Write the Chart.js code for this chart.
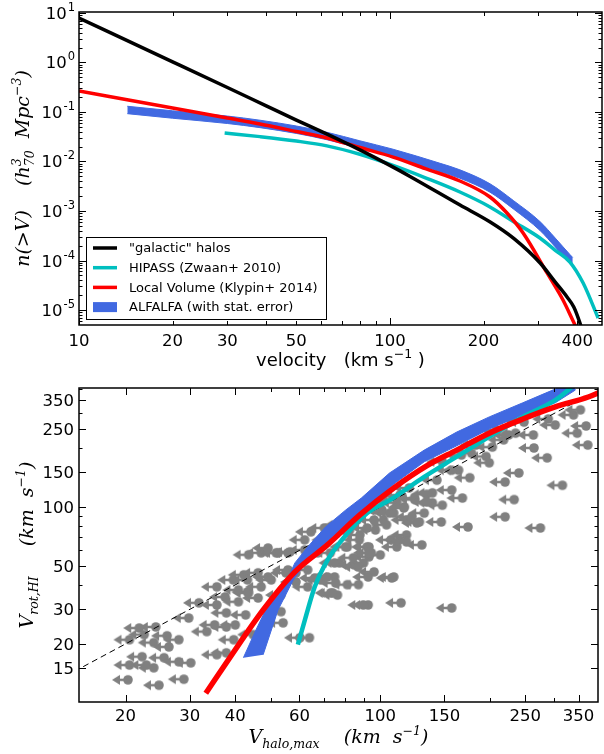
<!DOCTYPE html>
<html>
<head>
<meta charset="utf-8">
<title>Velocity function and Vrot vs Vhalo</title>
<script src="https://cdn.jsdelivr.net/npm/chart.js@4.4.1/dist/chart.umd.min.js"></script>
<style>
  body { margin: 0; background: #fff; }
  canvas { position: absolute; left: 0; }
  #vf { top: 0; }
  #vv { top: 370px; }
</style>
</head>
<body>
<canvas id="vf" width="604" height="370"></canvas>
<canvas id="vv" width="604" height="384"></canvas>
<script>
// ---- top panel: n(>V) ----
const galacticV = [10, 20, 30, 40, 50, 63, 80, 102, 116, 168, 210, 250, 304, 340, 371, 390, 408, 420];
const galacticN = [7.9, 1.03, 0.312, 0.133, 0.0687, 0.0353, 0.0172, 0.0078, 0.0050, 0.00132, 6.0e-4, 2.8e-4, 8.9e-5, 3.66e-5, 1.83e-5, 1.15e-5, 5.5e-6, 3.0e-6];

const localV = [10, 20, 30, 38.2, 50, 62.7, 80, 102.3, 130, 167.8, 209.7, 237.8, 268, 320, 360, 393.5, 405];
const localN = [0.265, 0.120, 0.0755, 0.0573, 0.0403, 0.0299, 0.0192, 0.0123, 0.00718, 0.00404, 0.00192, 9.1e-4, 3.6e-4, 5.6e-5, 1.59e-5, 5.0e-6, 3.5e-6];

const hipassV = [29.4, 38.2, 50, 62.7, 80, 102.3, 130, 167.8, 209.7, 250, 303.6, 340, 379, 418, 467];
const hipassN = [0.0377, 0.0318, 0.0259, 0.0207, 0.0140, 0.00834, 0.00469, 0.00242, 0.00121, 6.07e-4, 2.85e-4, 1.61e-4, 9.3e-5, 3.5e-5, 6.9e-6];

const alfalfaV = [14.3, 20, 30, 38.2, 50, 62.7, 80, 102.3, 144.9, 167.8, 209.7, 250, 303.6, 340, 379, 387];
const alfalfaHi = [0.1306, 0.1057, 0.0828, 0.0682, 0.0521, 0.0389, 0.0262, 0.0177, 0.0092, 0.00679, 0.00355, 0.001607, 6.12e-4, 2.84e-4, 1.32e-4, 1.15e-4];
const alfalfaLo = [0.0925, 0.0748, 0.0586, 0.0483, 0.0369, 0.0275, 0.0186, 0.0125, 0.00622, 0.00459, 0.0024, 0.001086, 4.05e-4, 1.88e-4, 8.71e-5, 7.59e-5];

const legendNames = ['"galactic" halos', 'HIPASS (Zwaan+ 2010)', 'Local Volume (Klypin+ 2014)', 'ALFALFA (with stat. error)'];

// ---- bottom panel: V_rot,HI vs V_halo,max (upper limits) ----
const hiVhalo = [20.3, 24.7, 28.9, 20.5, 22.8, 23.9, 25.5, 28.0, 30.2, 22.2, 23.9, 26.3, 26.0, 24.2, 21.8, 29.8, 33.4, 35.1, 37.8, 40.0,
  35.6, 37.8, 39.5, 42.2, 35.6, 37.5, 40.8, 35.6, 37.8, 42.7, 43.2, 46.2, 55.8, 47.1, 51.8, 62.0, 67.3, 74.9, 68.6, 63.2,
  58.7, 53.4, 46.2, 43.5, 49.2, 76.3, 96.1, 93.1, 87.6, 81.2, 77.3, 84.8, 74.9, 92.0, 96.1, 62.0, 55.8, 53.4, 54.1, 60.2,
  63.9, 92.6, 114, 157, 107.5, 87.1, 100, 93.1, 130, 126, 147, 174, 275, 139, 157, 168, 176, 164, 148, 178,
  195, 199, 203, 218, 225, 235, 248, 263, 264, 287, 289, 339, 367, 347, 371, 316, 240, 220, 233, 220,
  118, 106, 116, 111, 124, 134, 132, 101, 104, 86.4, 82.4, 107, 118, 98, 71.6, 81.2, 73.1, 113, 94.5, 90,
  122, 148, 20.5, 22.5, 43.5,
  52.4, 56.5, 64.5, 70.2, 77.8, 81.2, 87.9, 92.0, 93.1, 84.3, 86.9, 74.9, 71.6, 75.4, 66.1, 63.2, 58.7, 55.1, 50.2, 47.1,
  43.2, 40.8, 74.0, 89.8, 92.6, 108.9, 111, 118, 97, 102, 108.9, 116.4, 124.4, 128, 134, 139, 120, 113.2, 102, 96.1,
  80.2, 72.9, 39.6, 31.8, 28.0, 44.8, 49.2, 143, 157, 167, 183, 208, 228, 302, 354];
const hiVrot = [13.1, 12.3, 13.2, 15.6, 15.6, 15.1, 17.0, 16.2, 16.0, 17.2, 20.3, 19.3, 22.0, 24.4, 24.1, 27.1, 23.1, 25.0, 24.4, 25.0,
  17.6, 18.0, 42.4, 45.0, 39.1, 34.7, 32.8, 31.6, 28.8, 28.1, 36.8, 46.1, 58.3, 58.3, 58.3, 60.3, 58.3, 43.9, 42.4, 39.1,
  41.4, 35.5, 34.3, 36.4, 43.9, 35.5, 46.6, 55.6, 67.9, 62.5, 51.8, 50.6, 78.1, 78.1, 85.8, 67.9, 47.7, 29.2, 25.6, 21.5,
  21.5, 31.6, 32.4, 30.5, 43.4, 40.1, 56.9, 62.5, 64.0, 82.9, 83.8, 79.0, 78.1, 105, 122, 111, 141, 154, 170, 188,
  181, 168, 202, 220, 233, 238, 271, 233, 200, 178, 281, 295, 259, 238, 207, 129, 149, 134, 109, 89,
  85.8, 93, 98.8, 105, 111, 116, 93, 96.5, 81, 85.8, 76.3, 67.9, 71.9, 109, 67.9, 40.1, 36.4, 67.9, 58.3, 51.8,
  89, 102, 21.0, 22.3, 57,
  58.3, 59.0, 74.6, 78.1, 81.0, 73.8, 71.9, 62.5, 58.3, 55.0, 49.4, 51.8, 43.9, 40.9, 43.4, 47.7, 46.1, 46.1, 42.4, 39.1,
  42.4, 37.7, 36.4, 31.6, 43.9, 43.9, 62.5, 66.3, 76.3, 85.8, 93, 100, 109, 83.8, 106, 118, 125, 115, 109, 96.5,
  62.5, 58.3, 21.0, 32.4, 21.0, 22.3, 61.7, 137, 154, 184, 207, 247, 278, 262, 313];

const lvHaloV = [33.2, 38.3, 47.7, 58.3, 71.6, 87.9, 108.9, 134, 162, 199, 246, 302, 372, 413];
const lvRotV = [11.2, 16.6, 29.8, 46.6, 64.0, 91.1, 125, 162, 195, 238, 281, 324, 364, 395];

const hpHaloV = [59.4, 62.1, 66.1, 71.7, 79.7, 92.1, 106.4, 131.6, 161.8, 198.8, 245.9, 302, 328, 343];
const hpRotV = [19.8, 26.5, 39.1, 53.7, 70.3, 93.1, 108.6, 142, 180, 228, 288, 351, 395, 430];

// ALFALFA band outline: upper edge going up, then lower edge coming back down
const afHaloV = [42.1, 45.6, 49.2, 55.5, 58.3, 63.2, 70.7, 80.4, 88.7, 106, 132, 162, 199, 246, 284, 332,
  343, 302, 246, 199, 162, 132, 109, 87.9, 71.6, 63.2, 57.7, 52.4, 47.7];
const afRotV = [17.0, 23.6, 31.6, 42.4, 51.8, 62.5, 79.0, 96.5, 111, 149, 195, 241, 288, 340, 381, 430,
  395, 340, 295, 250, 205, 170, 131, 91.8, 67.1, 53.7, 42.4, 29.8, 17.6];

const oneToOne = [15.3, 362];

// ---- ticks ----
const topXTicks = [10, 20, 30, 40, 50, 60, 70, 80, 90, 100, 200, 300, 400];
const topXLabels = [10, 20, 30, 50, 100, 200, 400];
const topYExp = [-5, -4, -3, -2, -1, 0, 1];
const botXTicks = [20, 30, 40, 50, 60, 70, 80, 90, 100, 150, 200, 250, 300, 350];
const botXLabels = [20, 30, 40, 60, 100, 150, 250, 350];
const botYTicks = [15, 20, 30, 40, 50, 60, 70, 80, 90, 100, 150, 200, 250, 300, 350, 400];
const botYLabels = [15, 20, 30, 50, 100, 150, 250, 350];

const topYTicks = [];
for (let e = -6; e <= 1; e++) for (let m = 1; m <= 9; m++) topYTicks.push(m * Math.pow(10, e));

const BLUE = '#4169e1', CYAN = '#00bfbf', RED = '#ff0000', GREY = '#808080';
const SANS = '"DejaVu Sans", sans-serif';
const MATH = 'italic 19px "DejaVu Serif", serif';
const MATH_S = 'italic 12.5px "DejaVu Serif", serif';
const TICK_FONT = '16.5px ' + SANS;

const pts = (xs, ys) => xs.map((v, i) => ({ x: v, y: ys[i] }));

function drawRich(ctx, parts, x, y) {
  let total = 0;
  const w = parts.map(p => {
    ctx.font = p.font;
    const m = ctx.measureText(p.t).width;
    if (!p.keep) total += m;
    return m;
  });
  let cx = x - total / 2;
  ctx.textAlign = 'left';
  ctx.textBaseline = 'alphabetic';
  parts.forEach((p, i) => {
    ctx.font = p.font;
    ctx.fillText(p.t, cx, y + (p.dy || 0));
    if (!p.keep) cx += w[i];
  });
}

const panels = {
  vf: {
    xTicks: topXTicks, xMajor: [10, 100], xLabels: topXLabels, xLabelDy: 21,
    yTicks: topYTicks, yPow: true,
    xTitle: [
      { t: 'velocity   (km s', font: '18px ' + SANS },
      { t: '\u22121', font: '12.5px ' + SANS, dy: -8 },
      { t: ' )', font: '18px ' + SANS }
    ],
    xTitleY: 366,
    yTitle: [
      { t: 'n(>V)', font: MATH },
      { t: '    (h', font: MATH },
      { t: '3', font: MATH_S, dy: -8, keep: true },
      { t: '70', font: MATH_S, dy: 5 },
      { t: '  Mpc', font: MATH },
      { t: '\u22123', font: MATH_S, dy: -8 },
      { t: ')', font: MATH }
    ],
    yTitleX: 29,
    legend: [[0, 3.5], [2, 3.5], [1, 3.5], [3, 10]]
  },
  vv: {
    xTicks: botXTicks, xMajor: botXLabels, xLabels: botXLabels, xLabelDy: 19,
    yTicks: botYTicks, yMajor: botYLabels, yLabels: botYLabels,
    xTitle: [
      { t: 'V', font: MATH },
      { t: 'halo,max', font: MATH_S, dy: 5 },
      { t: '    (km  s', font: MATH },
      { t: '\u22121', font: MATH_S, dy: -8 },
      { t: ')', font: MATH }
    ],
    xTitleY: 373,
    yTitle: [
      { t: 'V', font: MATH },
      { t: 'rot,HI', font: MATH_S, dy: 5 },
      { t: '     (km  s', font: MATH },
      { t: '\u22121', font: MATH_S, dy: -8 },
      { t: ')', font: MATH }
    ],
    yTitleX: 33
  }
};

const framePlugin = {
  id: 'frame',
  afterDraw(chart) {
    const cfg = panels[chart.canvas.id];
    const { ctx, chartArea: a } = chart;
    const xs = chart.scales.x, ys = chart.scales.y;
    ctx.save();
    ctx.strokeStyle = '#000';
    ctx.fillStyle = '#000';

    // inward ticks on all four sides
    ctx.lineWidth = 1;
    ctx.beginPath();
    cfg.xTicks.forEach(v => {
      const px = Math.round(xs.getPixelForValue(v)) + 0.5;
      if (px < a.left || px > a.right) return;
      const len = cfg.xMajor.includes(v) ? 7 : 4;
      ctx.moveTo(px, a.bottom); ctx.lineTo(px, a.bottom - len);
      ctx.moveTo(px, a.top); ctx.lineTo(px, a.top + len);
    });
    cfg.yTicks.forEach(v => {
      const py = Math.round(ys.getPixelForValue(v)) + 0.5;
      if (py < a.top || py > a.bottom) return;
      const lg = Math.log10(v);
      const major = cfg.yPow ? Math.abs(lg - Math.round(lg)) < 1e-9 : cfg.yMajor.includes(v);
      const len = major ? 7 : 3.5;
      ctx.moveTo(a.left, py); ctx.lineTo(a.left + len, py);
      ctx.moveTo(a.right, py); ctx.lineTo(a.right - len, py);
    });
    ctx.stroke();
    ctx.lineWidth = 1.5;
    ctx.strokeRect(a.left, a.top, a.width, a.height);

    // tick labels
    ctx.font = TICK_FONT;
    ctx.textAlign = 'center';
    ctx.textBaseline = 'alphabetic';
    cfg.xLabels.forEach(v => ctx.fillText(String(v), xs.getPixelForValue(v), a.bottom + cfg.xLabelDy));
    if (cfg.yPow) {
      topYExp.forEach(e => {
        const py = ys.getPixelForValue(Math.pow(10, e));
        const exp = e < 0 ? '-' + (-e) : String(e);
        ctx.font = '11.5px ' + SANS;
        const ew = ctx.measureText(exp).width;
        ctx.font = TICK_FONT;
        const bw = ctx.measureText('10').width;
        const right = a.left - 4;
        ctx.textAlign = 'left';
        ctx.fillText('10', right - ew - bw - 1, py + 6);
        ctx.font = '11.5px ' + SANS;
        ctx.fillText(exp, right - ew, py - 2);
      });
    } else {
      ctx.textAlign = 'right';
      cfg.yLabels.forEach(v => ctx.fillText(String(v), a.left - 5, ys.getPixelForValue(v) + 6));
    }

    // axis titles
    ctx.fillStyle = '#000';
    drawRich(ctx, cfg.xTitle, a.left + a.width / 2, cfg.xTitleY);
    ctx.save();
    ctx.translate(cfg.yTitleX, a.top + a.height / 2);
    ctx.rotate(-Math.PI / 2);
    drawRich(ctx, cfg.yTitle, 0, 0);
    ctx.restore();

    // legend box
    if (cfg.legend) {
      const x0 = a.left + 7, y0 = a.bottom - 88, w = 240, h = 82;
      ctx.fillStyle = '#fff';
      ctx.fillRect(x0, y0, w, h);
      ctx.strokeStyle = '#000';
      ctx.lineWidth = 1;
      ctx.strokeRect(x0 + 0.5, y0 + 0.5, w, h);
      ctx.font = '13px ' + SANS;
      ctx.textAlign = 'left';
      ctx.textBaseline = 'middle';
      cfg.legend.forEach(([di, lw], i) => {
        const ds = chart.data.datasets[di];
        const yy = y0 + 11 + i * 19.7;
        ctx.fillStyle = ds.borderColor;
        ctx.fillRect(x0 + 7, yy - lw / 2, 24, lw);
        ctx.fillStyle = '#000';
        ctx.fillText(ds.label, x0 + 43, yy + 1);
      });
    }
    ctx.restore();
  }
};

function hiddenAxis(type, min, max, horizontal, ticks) {
  return {
    type, min, max,
    ticks: { display: false },
    grid: { display: false },
    border: { display: false },
    afterBuildTicks: s => { s.ticks = ticks.map(v => ({ value: v })); },
    afterFit: s => { if (horizontal) s.height = 0; else s.width = 0; }
  };
}

// marker for the upper limits: filled circle with an arrow pointing left
function arrowMarker() {
  const c = document.createElement('canvas');
  c.width = 40; c.height = 12;
  const g = c.getContext('2d');
  const cx = 20, cy = 6;
  g.fillStyle = GREY; g.strokeStyle = GREY;
  g.beginPath(); g.arc(cx, cy, 4.8, 0, Math.PI * 2); g.fill();
  g.lineWidth = 2.5;
  g.beginPath(); g.moveTo(cx, cy); g.lineTo(cx - 10, cy); g.stroke();
  g.beginPath(); g.moveTo(cx - 16, cy); g.lineTo(cx - 8, cy - 5); g.lineTo(cx - 8, cy + 5); g.closePath(); g.fill();
  return c;
}

const lineDs = (label, xs, ys, color, width, order) => ({
  label, data: pts(xs, ys), borderColor: color, backgroundColor: color,
  borderWidth: width, pointRadius: 0, fill: false, order, clip: 0,
  cubicInterpolationMode: 'monotone'
});

new Chart(document.getElementById('vf'), {
  type: 'line',
  data: {
    datasets: [
      lineDs(legendNames[0], galacticV, galacticN, '#000', 3.5, 0),
      lineDs(legendNames[2], localV, localN, RED, 3.5, 1),
      lineDs(legendNames[1], hipassV, hipassN, CYAN, 3.5, 2),
      lineDs(legendNames[3], alfalfaV, alfalfaHi, BLUE, 1, 3),
      Object.assign(lineDs(legendNames[3], alfalfaV, alfalfaLo, BLUE, 1, 3), { fill: '-1' })
    ]
  },
  options: {
    responsive: false, animation: false, events: [],
    layout: { padding: { left: 79, top: 12, right: 2, bottom: 45 } },
    scales: {
      x: hiddenAxis('logarithmic', 10, 480.6, true, topXTicks),
      y: hiddenAxis('logarithmic', 4.98e-6, 10.47, false, topYTicks)
    },
    plugins: { legend: { display: false }, tooltip: { enabled: false } }
  },
  plugins: [framePlugin]
});

new Chart(document.getElementById('vv'), {
  type: 'line',
  data: {
    datasets: [
      lineDs('Local Volume', lvHaloV, lvRotV, RED, 5.5, 0),
      lineDs('HIPASS', hpHaloV, hpRotV, CYAN, 4.5, 1),
      {
        label: 'ALFALFA', data: pts(afHaloV, afRotV), borderColor: BLUE, backgroundColor: BLUE,
        borderWidth: 1, pointRadius: 0, fill: 'shape', tension: 0, order: 2, clip: 0
      },
      {
        label: '1:1', data: pts(oneToOne, oneToOne), borderColor: '#000', borderWidth: 1,
        borderDash: [6, 4], pointRadius: 0, fill: false, order: 3, clip: 0
      },
      {
        label: 'galaxies', data: pts(hiVhalo, hiVrot), showLine: false,
        pointStyle: arrowMarker(), pointRadius: 5, order: 4, clip: 0
      }
    ]
  },
  options: {
    responsive: false, animation: false, events: [],
    layout: { padding: { left: 79, top: 18, right: 1, bottom: 52 } },
    scales: {
      x: hiddenAxis('logarithmic', 14.9, 395.7, true, botXTicks),
      y: hiddenAxis('logarithmic', 10.1, 404.6, false, botYTicks)
    },
    plugins: { legend: { display: false }, tooltip: { enabled: false } }
  },
  plugins: [framePlugin]
});
</script>
</body>
</html>
